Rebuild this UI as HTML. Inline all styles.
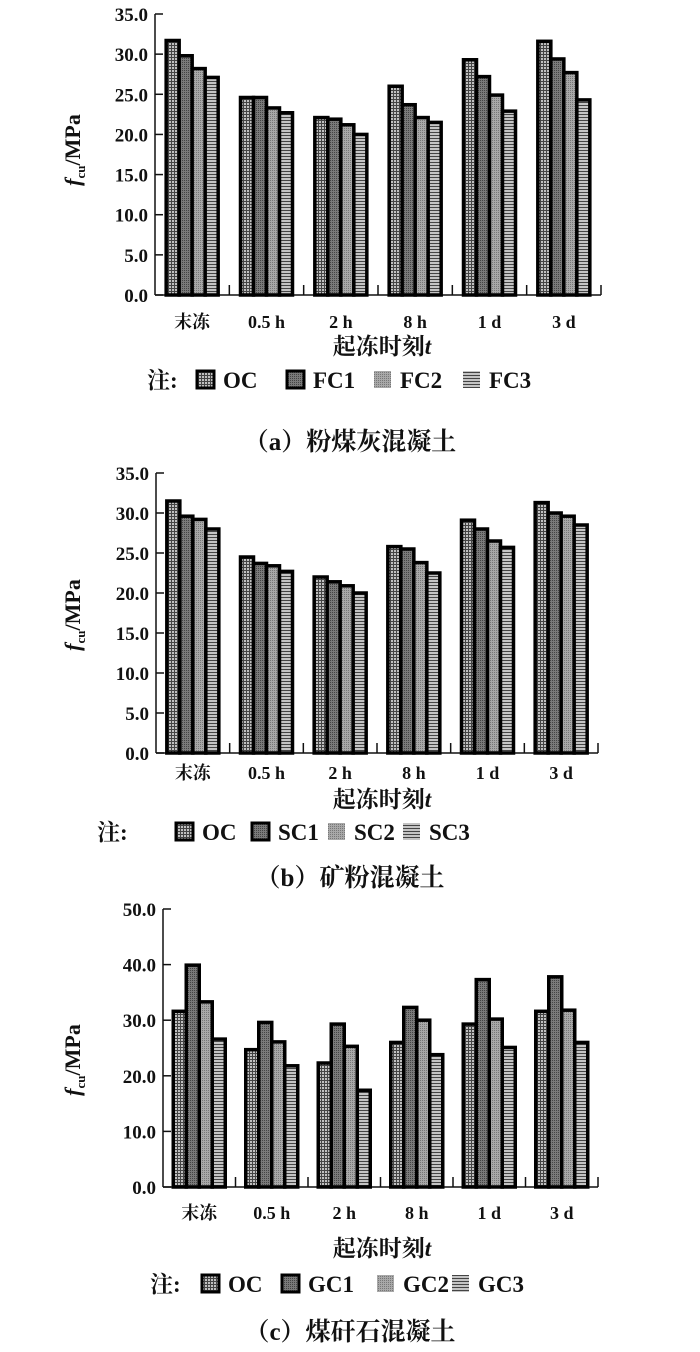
<!DOCTYPE html>
<html><head><meta charset="utf-8">
<style>
html,body{margin:0;padding:0;background:#fff;}
svg{display:block;}
text{font-family:"Liberation Serif","Noto Serif CJK SC",serif;fill:#111;font-weight:bold;}
</style></head>
<body>
<svg id="chart" width="700" height="1352" viewBox="0 0 700 1352" xmlns="http://www.w3.org/2000/svg">
<defs>
<pattern id="p0" width="3" height="3" patternUnits="userSpaceOnUse"><rect width="3" height="3" fill="#c0c0c0"/><rect width="1" height="3" fill="#444"/><rect width="3" height="1" fill="#444"/></pattern>
<pattern id="p1" width="2" height="2" patternUnits="userSpaceOnUse"><rect width="2" height="2" fill="#7a7a7a"/><rect width="1" height="1" fill="#444"/></pattern>
<pattern id="p2" width="2" height="2" patternUnits="userSpaceOnUse"><rect width="2" height="2" fill="#a8a8a8"/><rect width="1" height="1" fill="#777"/></pattern>
<pattern id="p3" width="3" height="3" patternUnits="userSpaceOnUse"><rect width="3" height="3" fill="#c4c4c4"/><rect width="3" height="1" fill="#444"/></pattern>
</defs>
</svg>
<script>
const categories = ["末冻","0.5 h","2 h","8 h","1 d","3 d"];
const seriesA = ["OC","FC1","FC2","FC3"];
const seriesB = ["OC","SC1","SC2","SC3"];
const seriesC = ["OC","GC1","GC2","GC3"];
const valuesA_OC = [31.7,24.6,22.1,26.0,29.3,31.6];
const valuesA_FC1 = [29.8,24.6,21.9,23.7,27.2,29.4];
const valuesA_FC2 = [28.2,23.3,21.2,22.1,24.9,27.7];
const valuesA_FC3 = [27.1,22.7,20.0,21.5,22.9,24.3];
const valuesB_OC = [31.5,24.5,22.0,25.8,29.1,31.3];
const valuesB_SC1 = [29.6,23.7,21.4,25.5,28.0,30.0];
const valuesB_SC2 = [29.2,23.4,20.9,23.8,26.5,29.6];
const valuesB_SC3 = [28.0,22.7,20.0,22.5,25.7,28.5];
const valuesC_OC = [31.6,24.7,22.3,26.0,29.3,31.6];
const valuesC_GC1 = [39.9,29.6,29.3,32.3,37.3,37.8];
const valuesC_GC2 = [33.3,26.1,25.3,30.0,30.2,31.8];
const valuesC_GC3 = [26.6,21.8,17.4,23.8,25.1,26.0];
const ticksAB = ["0.0","5.0","10.0","15.0","20.0","25.0","30.0","35.0"];
const ticksC = ["0.0","10.0","20.0","30.0","40.0","50.0"];

const svg = document.getElementById('chart');
const NS = "http://www.w3.org/2000/svg";
function mk(tag, attrs, parent){
  const e = document.createElementNS(NS, tag);
  for (const k in attrs) e.setAttribute(k, attrs[k]);
  (parent||svg).appendChild(e);
  return e;
}
function txt(s, x, y, size, anchor, parent){
  const t = mk('text', {x:x, y:y, 'font-size':size, 'text-anchor':anchor||'middle'}, parent);
  t.textContent = s;
  return t;
}

function drawChart(cfg){
  const g = mk('g', {});
  
  
  const x0 = cfg.x0, x1 = cfg.x1, y0 = cfg.y0, yTop = cfg.yTop, vmax = cfg.vmax;
  const ys = v => y0 - (v / vmax) * (y0 - yTop);
  const cw = (x1 - x0) / categories.length;
  const xs = i => x0 + i * cw;
  const ya = mk('line', {x1:x0, y1:yTop, x2:x0, y2:y0, stroke:'#111', 'stroke-width':1.5}, g);
  
  
  const xa = mk('line', {x1:x0, y1:y0, x2:x1, y2:y0, stroke:'#111', 'stroke-width':1.5}, g);
  
  
  cfg.ticks.forEach(t => {
    const v = parseFloat(t), y = ys(v);
    mk('line', {x1:x0, y1:y, x2:x0+8, y2:y, stroke:'#111', 'stroke-width':1.5}, g);
    const tl = txt(t, x0-7, y+7, 19, 'end', g);
    
    
  });
  for (let i = 1; i <= categories.length; i++){
    mk('line', {x1:xs(i), y1:y0, x2:xs(i), y2:y0-10, stroke:'#111', 'stroke-width':1.5}, g);
  }
  const bw = 13, pad = (cw - bw * 4) / 2;
  cfg.series.forEach((vals, s) => {
    vals.forEach((v, i) => {
      const x = xs(i) + pad + s * bw;
      const r = mk('rect', {x:x, y:ys(v), width:bw, height:y0-ys(v), fill:'url(#p'+s+')', stroke:'#000', 'stroke-width':3.5}, g);
      
      
    });
  });
  categories.forEach((c, i) => {
    const cl = txt(c, xs(i) + cw/2, cfg.catY, 18, 'middle', g);
    
    
  });
  const xt = txt('起冻时刻', cfg.titleX - 8, cfg.titleY, 23, 'middle', g);
  const ti = mk('tspan', {'font-style':'italic'}, xt); ti.textContent = 't';
  
  
  const ytg = mk('text', {x:0, y:0, 'font-size':22, 'text-anchor':'middle', transform:'translate('+cfg.yTitleX+','+cfg.yTitleY+') rotate(-90)'}, g);
  const f1 = mk('tspan', {'font-style':'italic'}, ytg); f1.textContent = 'f';
  const f2 = mk('tspan', {'font-size':13, dy:5}, ytg); f2.textContent = 'cu';
  const f3 = mk('tspan', {dy:-5}, ytg); f3.textContent = '/MPa';
  
  
  const lg = mk('g', {}, g);
  
  
  txt('注:', cfg.legX, cfg.legY + 8, 23, 'start', lg);
  cfg.names.forEach((n, s) => {
    const lx = cfg.legSq[s];
    const e = mk('g', {}, lg);
    
    
    mk('rect', {x:lx, y:cfg.legY-9, width:17, height:17, fill:'url(#p'+s+')', stroke: (s<2?'#000':'none'), 'stroke-width':3}, e);
    txt(n, lx + 26, cfg.legY + 8, 23, 'start', e);
  });
  const cap = txt(cfg.caption, 350, cfg.capY, 25, 'middle', g);
  
  
}

drawChart({name:'chart-a', x0:155, x1:601, y0:295, yTop:14, vmax:35, ticks:ticksAB,
  series:[valuesA_OC,valuesA_FC1,valuesA_FC2,valuesA_FC3], names:seriesA,
  catY:328, titleX:390, titleY:354, yTitleX:80, yTitleY:150,
  legX:147, legY:380, legSq:[197,287,374,463], caption:'（a）粉煤灰混凝土', capY:450});
drawChart({name:'chart-b', x0:156, x1:598, y0:753, yTop:473, vmax:35, ticks:ticksAB,
  series:[valuesB_OC,valuesB_SC1,valuesB_SC2,valuesB_SC3], names:seriesB,
  catY:779, titleX:390, titleY:807, yTitleX:80, yTitleY:615,
  legX:97, legY:832, legSq:[176,252,328,403], caption:'（b）矿粉混凝土', capY:886});
drawChart({name:'chart-c', x0:163, x1:598, y0:1187, yTop:909, vmax:50, ticks:ticksC,
  series:[valuesC_OC,valuesC_GC1,valuesC_GC2,valuesC_GC3], names:seriesC,
  catY:1219, titleX:390, titleY:1256, yTitleX:80, yTitleY:1060,
  legX:150, legY:1284, legSq:[202,282,377,452], caption:'（c）煤矸石混凝土', capY:1340});
</script>
</body></html>
